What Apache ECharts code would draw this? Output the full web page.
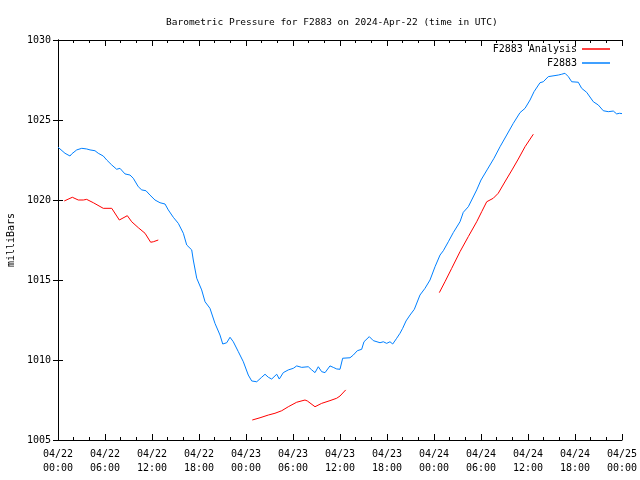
<!DOCTYPE html>
<html>
<head>
<meta charset="utf-8">
<script src="https://cdn.jsdelivr.net/npm/echarts@6/dist/echarts.min.js"></script>
<style>html,body{margin:0;padding:0;background:#fff}#c{width:640px;height:480px}</style>
</head>
<body>
<div id="c"></div>
<script>
// x values are hours since 2024-04-22 00:00 UTC
const tickDates = ['04/22','04/22','04/22','04/22','04/23','04/23','04/23','04/23','04/24','04/24','04/24','04/24','04/25'];
const tickTimes = ['00:00','06:00','12:00','18:00','00:00','06:00','12:00','18:00','00:00','06:00','12:00','18:00','00:00'];

const stationObs = [
 [0,1023.3],[0.89,1022.92],[1.53,1022.75],[1.75,1022.88],[2.39,1023.13],[3.03,1023.23],[3.66,1023.19],
 [4.09,1023.13],[4.72,1023.08],[5.14,1022.92],[5.78,1022.75],[6.22,1022.5],[6.86,1022.19],[7.49,1021.92],
 [7.91,1021.98],[8.55,1021.63],[9.19,1021.56],[9.61,1021.36],[10.25,1020.83],[10.69,1020.63],[11.23,1020.58],
 [11.74,1020.31],[12.38,1020.0],[13.02,1019.83],[13.66,1019.75],[14.08,1019.38],[14.72,1018.92],[15.36,1018.54],
 [16.0,1017.92],[16.43,1017.19],[17.07,1016.88],[17.27,1016.25],[17.71,1015.11],[18.34,1014.38],[18.77,1013.64],
 [19.4,1013.23],[20.04,1012.29],[20.68,1011.56],[21.03,1011.0],[21.54,1011.08],[21.96,1011.42],[22.38,1011.14],
 [23.02,1010.52],[23.66,1009.89],[24.29,1009.06],[24.73,1008.69],[25.37,1008.64],[26.0,1008.92],[26.43,1009.11],
 [26.85,1008.92],[27.28,1008.81],[27.92,1009.11],[28.25,1008.81],[28.76,1009.21],[29.4,1009.38],[30.04,1009.48],
 [30.47,1009.63],[31.11,1009.54],[31.32,1009.64],[31.95,1009.58],[32.39,1009.38],[32.81,1009.21],[33.23,1009.58],
 [33.66,1009.27],[34.09,1009.21],[34.72,1009.63],[35.14,1009.54],[35.58,1009.44],[36.0,1009.42],[36.34,1010.11],
 [37.28,1010.14],[37.7,1010.31],[37.91,1010.21],[38.21,1010.58],[38.77,1010.67],[39.06,1011.14],[39.74,1011.46],
 [40.25,1011.21],[41.11,1011.08],[41.53,1011.14],[41.96,1011.04],[42.38,1011.14],[42.73,1011.0],[43.24,1011.36],
 [43.66,1011.67],[44.0,1011.98],[44.43,1012.44],[44.94,1012.81],[45.49,1013.17],[46.21,1014.06],[46.85,1014.48],
 [47.49,1015.0],[48.13,1015.83],[48.77,1016.56],[49.19,1016.83],[49.83,1017.39],[50.46,1017.96],[51.32,1018.64],
 [51.74,1019.23],[52.38,1019.58],[52.81,1020.0],[53.45,1020.63],[54.0,1021.25],[54.77,1021.88],[55.66,1022.61],
 [56.43,1023.33],[57.28,1024.06],[58.12,1024.79],[58.98,1025.46],[59.62,1025.73],[60.26,1026.25],[60.77,1026.77],
 [61.53,1027.33],[61.95,1027.39],[62.59,1027.71],[63.87,1027.81],[64.3,1027.86],[64.72,1027.92],[65.15,1027.71],
 [65.58,1027.39],[66.42,1027.36],[66.85,1026.98],[67.49,1026.73],[68.34,1026.14],[68.97,1025.94],[69.61,1025.58],
 [70.25,1025.52],[70.89,1025.56],[71.32,1025.38],[71.66,1025.42],[72,1025.4]
];

const analysisDay1 = [
 [0.8,1019.94],[1.83,1020.17],[2.59,1020.0],[3.23,1020.0],[3.66,1020.04],[4.51,1019.83],[5.78,1019.48],
 [6.86,1019.48],[7.83,1018.75],[8.85,1019.02],[9.41,1018.64],[10.25,1018.27],[11.11,1017.92],[11.83,1017.36],
 [12.17,1017.39],[12.8,1017.5]
];
const analysisDay2 = [
 [24.8,1006.25],[25.79,1006.39],[26.85,1006.56],[27.7,1006.67],[28.56,1006.83],[29.4,1007.08],[30.47,1007.36],
 [31.53,1007.5],[31.83,1007.44],[32.81,1007.08],[33.66,1007.29],[34.72,1007.46],[35.58,1007.61],[36.0,1007.75],
 [36.73,1008.13]
];
const analysisDay3 = [
 [48.68,1014.21],[49.4,1014.89],[50.26,1015.73],[51.32,1016.77],[52.38,1017.71],[53.45,1018.64],[54.09,1019.27],
 [54.73,1019.89],[55.57,1020.11],[56.2,1020.42],[57.19,1021.25],[57.96,1021.88],[58.76,1022.56],[59.62,1023.33],
 [60.68,1024.11]
];

const FONT = 'DejaVu Sans Mono';
const analysisData = analysisDay1.concat([[18,'-']], analysisDay2, [[42,'-']], analysisDay3);

const axisLineStyle = {show:true, lineStyle:{color:'#000', width:1}};
function xAx(pos, labels){
  return {
    type:'value', position:pos, min:0, max:72, interval:6,
    axisLine:axisLineStyle,
    axisTick:{show:true, inside:true, length:6, lineStyle:{color:'#000'}},
    minorTick:{show:true, splitNumber:3, length:3, lineStyle:{color:'#000'}},
    splitLine:{show:false}, minorSplitLine:{show:false},
    axisLabel:{show:labels, margin:7, fontFamily:FONT, fontSize:10, color:'#000', lineHeight:14,
      formatter:function(v){const i=Math.round(v/6);return tickDates[i]+'\n'+tickTimes[i];}}
  };
}
function yAx(pos, labels){
  return {
    type:'value', position:pos, min:1005, max:1030, interval:5,
    axisLine:axisLineStyle,
    axisTick:{show:true, inside:true, length:5, lineStyle:{color:'#000'}},
    splitLine:{show:false},
    axisLabel:{show:labels, margin:7, fontFamily:FONT, fontSize:10, color:'#000',
      formatter:function(v){return String(v);}},
    name: labels ? 'milliBars' : '', nameLocation:'middle', nameGap:42, nameRotate:90,
    nameTextStyle:{fontFamily:FONT, fontSize:10, color:'#000'}
  };
}

const chart = echarts.init(document.getElementById('c'), null, {renderer:'canvas'});
chart.setOption({
  animation:false,
  backgroundColor:'#fff',
  title:{text:'Barometric Pressure for F2883 on 2024-Apr-22 (time in UTC)', left:161, top:13,
    textStyle:{fontFamily:FONT, fontSize:9.5, fontWeight:'normal', color:'#000'}},
  grid:{left:58, right:18, top:40, bottom:40, containLabel:false, outerBoundsMode:'none'},
  legend:{orient:'vertical', right:25, top:38, align:'right', itemGap:2, itemWidth:28, itemHeight:1.5,
    icon:'rect', textStyle:{fontFamily:FONT, fontSize:10, color:'#000', lineHeight:12},
    data:['F2883 Analysis','F2883']},
  xAxis:[xAx('bottom', true), xAx('top', false)],
  yAxis:[yAx('left', true), yAx('right', false)],
  series:[
    {name:'F2883 Analysis', type:'line', data:analysisData, showSymbol:false, symbol:'none',
     connectNulls:false, color:'#ff0000', lineStyle:{width:1, color:'#ff0000'}, xAxisIndex:0, yAxisIndex:0},
    {name:'F2883', type:'line', data:stationObs, showSymbol:false, symbol:'none',
     color:'#0080ff', lineStyle:{width:1, color:'#0080ff'}, xAxisIndex:0, yAxisIndex:0}
  ]
});
</script>
</body>
</html>
